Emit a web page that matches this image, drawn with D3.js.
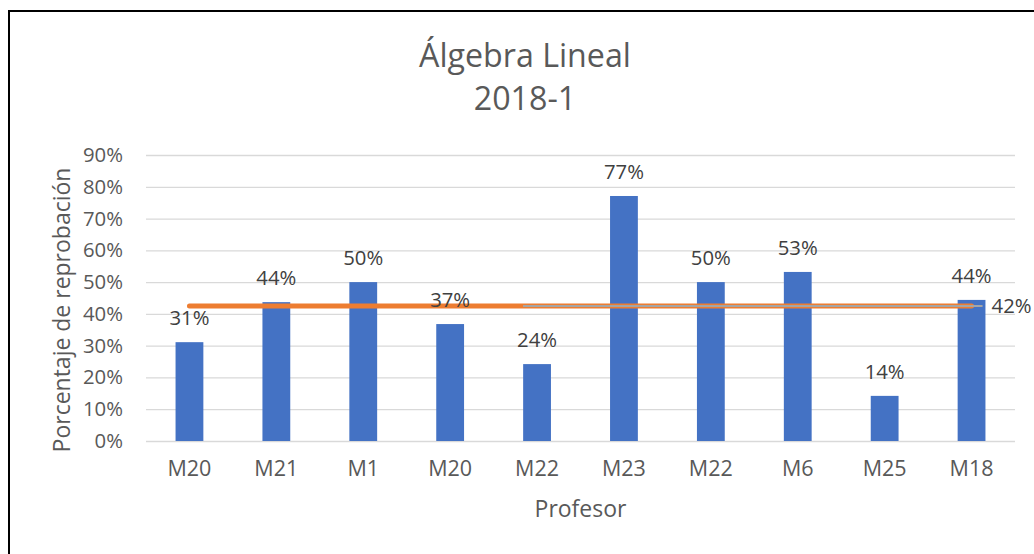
<!DOCTYPE html>
<html><head><meta charset="utf-8">
<script src="https://cdn.jsdelivr.net/npm/d3@7"></script>
<style>html,body{margin:0;padding:0;background:#fff;} svg{display:block;}</style>
</head><body>
<svg id="c" width="1034" height="554"></svg>
<script>
const categories = ["M20","M21","M1","M20","M22","M23","M22","M6","M25","M18"];
const values = [31.1, 43.7, 50.0, 36.8, 24.2, 77.1, 50.0, 53.2, 14.2, 44.4];
const labels = ["31%","44%","50%","37%","24%","77%","50%","53%","14%","44%"];
const average = [42.5];
const averageLabel = ["42%"];
const yTicks = [0,10,20,30,40,50,60,70,80,90];
const titleLines = ["Álgebra Lineal","2018-1"];
const xTitle = "Profesor";
const yTitle = "Porcentaje de reprobación";

const font = "'Open Sans', Lato, sans-serif";
const svg = d3.select("#c");
svg.append("rect").attr("x",0).attr("y",0).attr("width",1034).attr("height",554).attr("fill","#fff");
svg.append("path").attr("d","M9,554 V11 H1034").attr("fill","none").attr("stroke","#000").attr("stroke-width",2);

// font size that makes a text reach a given width
function fit(text, w){
  const t = svg.append("text").style("font-family",font).style("font-size","100px").text(text);
  const len = t.node().getComputedTextLength(); t.remove();
  return 100*w/len;
}
const fsTick = fit("90%", 40);
const fsCat = fit("M20", 44);
const fsTitle = fit("Álgebra Lineal", 212);
const fsAxis = (fit("Profesor", 89) + fit(yTitle, 294))/2;

const m = {l:146, r:1015, t:155, b:441};
const x = d3.scaleBand().domain(d3.range(categories.length)).range([m.l,m.r]).paddingInner(0.68).paddingOuter(0.34);
const y = d3.scaleLinear().domain([0,90]).range([m.b,m.t]);

const yAxis = d3.axisLeft(y).tickValues(yTicks).tickSize(-(m.r-m.l)).tickFormat(d=>d+"%").tickPadding(23);
const gy = svg.append("g").attr("transform",`translate(${m.l},0)`).call(yAxis);
gy.select(".domain").remove();
gy.selectAll(".tick line").attr("stroke","#d9d9d9").attr("stroke-width",1.3);
gy.selectAll(".tick text").attr("fill","#595959").style("font-family",font).style("font-size",fsTick+"px");

svg.append("g").selectAll("rect").data(values).join("rect")
  .attr("x",(d,i)=>x(i)).attr("width",x.bandwidth())
  .attr("y",d=>y(d)).attr("height",d=>y(0)-y(d))
  .attr("fill","#4472c4");

const xAxis = d3.axisBottom(x).tickSize(0).tickPadding(20).tickFormat(i=>categories[i]);
const gx = svg.append("g").attr("transform",`translate(0,${m.b})`).call(xAxis);
gx.select(".domain").remove();
gx.selectAll(".tick text").attr("fill","#595959").style("font-family",font).style("font-size",fsCat+"px");

const cx = i => x(i)+x.bandwidth()/2;
const n = categories.length;
svg.append("line").attr("x1",cx(0)).attr("x2",cx(n-1)).attr("y1",y(average[0])).attr("y2",y(average[0]))
  .attr("stroke","#ed7d31").attr("stroke-width",5).attr("stroke-linecap","round");
svg.append("line").attr("x1",cx(4)-14).attr("x2",cx(n-1)+11).attr("y1",y(average[0])).attr("y2",y(average[0]))
  .attr("stroke","#a5a5a5").attr("stroke-width",2);
svg.append("text").attr("x",cx(n-1)+20).attr("y",y(average[0])+7).text(averageLabel[0])
  .attr("fill","#404040").style("font-family",font).style("font-size",fsTick+"px");

svg.append("g").selectAll("text").data(values).join("text")
  .attr("x",(d,i)=>cx(i)).attr("y",d=>y(d)-17)
  .attr("text-anchor","middle").text((d,i)=>labels[i])
  .attr("fill","#404040").style("font-family",font).style("font-size",fsTick+"px");

svg.append("g").selectAll("text").data(titleLines).join("text")
  .attr("x",525).attr("y",(d,i)=>67+i*43).attr("text-anchor","middle").text(d=>d)
  .attr("fill","#595959").style("font-family",font).style("font-size",fsTitle+"px");
svg.append("text").attr("x",(m.l+m.r)/2).attr("y",517).attr("text-anchor","middle").text(xTitle)
  .attr("fill","#595959").style("font-family",font).style("font-size",fsAxis+"px");
svg.append("text").attr("transform",`translate(70,310) rotate(-90)`).attr("text-anchor","middle").text(yTitle)
  .attr("fill","#595959").style("font-family",font).style("font-size",fsAxis+"px");
</script>
</body></html>
